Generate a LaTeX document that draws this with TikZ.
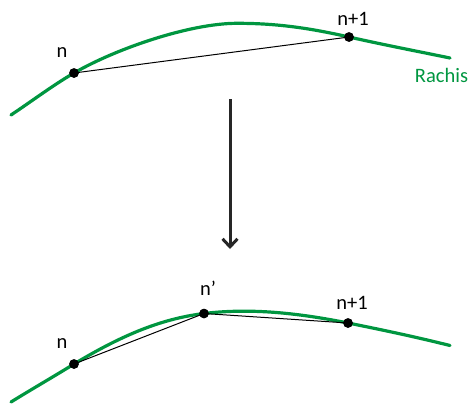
\documentclass[tikz,border=0pt]{standalone}
\usepackage{fontspec}
\setmainfont{Carlito}
\usetikzlibrary{arrows.meta}
\definecolor{rgreen}{RGB}{0,150,64}
\tikzset{
  rachis/.style={draw=rgreen, line width=3.2pt, line cap=round},
  chord/.style={draw=black, line width=1pt},
  pt/.style={circle, fill=black, inner sep=0pt, minimum size=9.5pt},
  lbl/.style={font=\fontsize{20.5}{24}\selectfont, inner sep=0pt},
  bigarrow/.style={draw=black!85, line width=3pt, -{Straight Barb[length=8pt,width=15pt,line width=3pt]}}
}
\begin{document}
\begin{tikzpicture}[x=1pt,y=-1pt]
\useasboundingbox (0,0) rectangle (470,407);
% top rachis
\draw[rachis] (11,115) .. controls (32,101) and (53,85.2) .. (74,73)
  .. controls (116,48.6) and (190,23.3) .. (237,23.3)
  .. controls (277,23.3) and (309,28) .. (349,37)
  .. controls (383,44.65) and (416,51) .. (450,58);
\node[pt] (n1) at (74,73) {};
\node[pt] (n1b) at (349,37) {};
\draw[chord] (n1.center) -- (n1b.center);
\node[pt] at (74,73) {};
\node[pt] at (349,37) {};
\node[lbl] (ln1) at (62,53) {n};
\node[lbl] (ln1b) at (353,19) {n+1};
\node[lbl, text=rgreen] (lr) at (441.5,75.5) {Rachis};
% arrow
\coordinate (as) at (230,99);
\coordinate (ae) at (230,249);
\draw[bigarrow] (as) -- (ae);
% bottom rachis
\draw[rachis] (11,402) .. controls (32,389) and (53,377) .. (74,364)
  .. controls (119,337) and (159,319) .. (204,313.5)
  .. controls (252,307.7) and (300,313.4) .. (348,323)
  .. controls (382,329.8) and (416,337) .. (450,345.5);
\node[pt] (n2) at (74,364) {};
\node[pt] (n2p) at (204,313.5) {};
\node[pt] (n2b) at (348,323) {};
\draw[chord] (n2.center) -- (n2p.center) -- (n2b.center);
\node[pt] at (74,364) {};
\node[pt] at (204,313.5) {};
\node[pt] at (348,323) {};
\node[lbl] (ln2) at (62,344) {n};
\node[lbl] (ln2p) at (208,288) {n’};
\node[lbl] (ln2b) at (352,303) {n+1};
\end{tikzpicture}
\end{document}
